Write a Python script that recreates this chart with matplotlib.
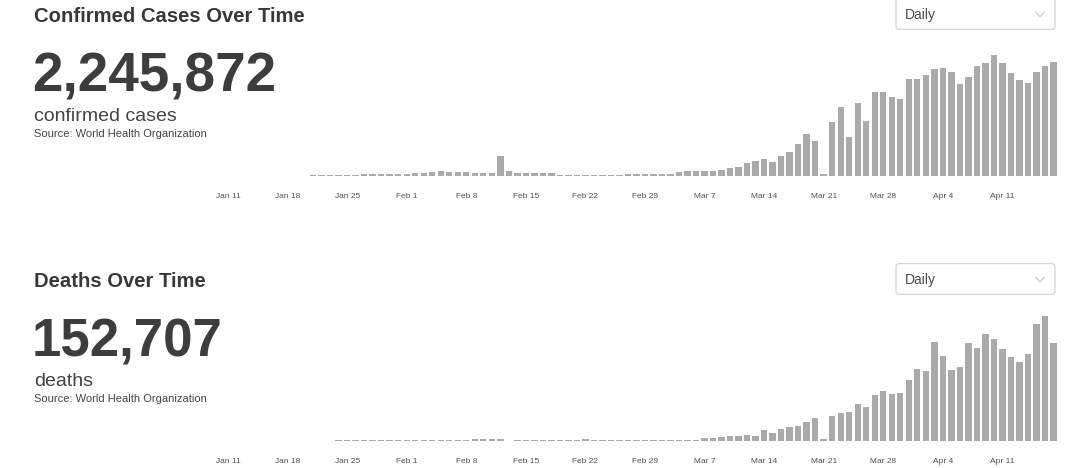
import pandas as pd
import matplotlib.pyplot as plt
from matplotlib.patches import FancyBboxPatch

OUT_FILE = 'out.png'
FONT = ['Liberation Sans', 'DejaVu Sans']

# daily values, Jan 21 .. Apr 17 2020
dates = pd.date_range('2020-01-21', '2020-04-17', freq='D')

confirmed_daily = [
    # Jan 21-31
    280, 300, 260, 500, 600, 800, 1300, 1300, 1400, 1300, 1300,
    # Feb
    1600, 2100, 2400, 3200, 3400, 3200, 2900, 2600, 2400, 2400, 1850, 15200, 4000, 2100,
    2100, 2100, 1850, 1850, 550, 550, 550, 550, 550, 550, 800, 800, 1050, 1300, 1300,
    # Mar
    1300, 1600, 1600, 2630, 3700, 3700, 3700, 3950, 4200, 6300, 6600, 10000, 11800, 12900,
    10800, 15800, 18900, 25000, 33100, 27100, 1600, 42600, 54200, 30800, 57100, 43100,
    65500, 65500, 61800, 60200, 75700,
    # Apr 1-17
    76300, 79400, 83600, 84400, 81300, 71800, 77300, 86500, 88600, 94900, 88600, 80700,
    75000, 72900, 81500, 86500, 89400,
]

deaths_daily = [
    # Jan 21-31
    12, 12, 12, 17, 17, 20, 24, 24, 24, 26, 29,
    # Feb
    45, 45, 57, 65, 66, 73, 73, 86, 89, 97, 108, 150, 10, 72, 72, 72, 72, 72, 72, 72, 72,
    100, 35, 35, 35, 35, 35, 40, 40,
    # Mar
    40, 45, 45, 48, 48, 48, 190, 190, 240, 310, 310, 410, 340, 740, 550, 820, 960, 1080,
    1370, 1660, 120, 1750, 1990, 2040, 2640, 2420, 3290, 3550, 3360, 3460, 4390,
    # Apr 1-17
    5180, 5040, 7100, 6070, 5060, 5280, 7060, 6670, 7680, 7340, 6600, 6000, 5690, 6260,
    8400, 9000, 7060,
]

tick_labels = ['Jan 11', 'Jan 18', 'Jan 25', 'Feb 1', 'Feb 8', 'Feb 15', 'Feb 22',
               'Feb 29', 'Mar 7', 'Mar 14', 'Mar 21', 'Mar 28', 'Apr 4', 'Apr 11']

panels = [
    {'title': 'Confirmed Cases Over Time', 'total': '2,245,872', 'unit': 'confirmed cases',
     'values': confirmed_daily, 'ymax': 102200, 'dy': 0, 'total_size': 39.5},
    {'title': 'Deaths Over Time', 'total': '152,707', 'unit': 'deaths',
     'values': deaths_daily, 'ymax': 9360, 'dy': 265, 'total_size': 38},
]


def draw_header(bg, p):
    dy = p['dy']
    bg.text(34, 21.7 + dy, p['title'], fontsize=14.6, fontweight='bold', color='#383838',
            va='baseline', family=FONT)
    bg.text(32, 91.5 + dy, p['total'], fontsize=p['total_size'], fontweight='bold',
            color='#3d3d3d', va='baseline', family=FONT)
    bg.text(34, 120.7 + dy, p['unit'], fontsize=14, color='#444444', va='baseline', family=FONT)
    bg.text(34, 137.3 + dy, 'Source: World Health Organization', fontsize=8, color='#444444',
            va='baseline', family=FONT)

    # "Daily" dropdown
    box = FancyBboxPatch((896, -1.4 + dy), 159, 30.7, boxstyle='round,pad=0,rounding_size=3',
                         facecolor='white', edgecolor='#d4d4d4', linewidth=0.9)
    bg.add_patch(box)
    bg.text(905, 15 + dy, 'Daily', fontsize=10, color='#4a4a4a', va='center', family=FONT)
    bg.plot([1036, 1040, 1044], [12.7 + dy, 16.7 + dy, 12.7 + dy], color='#c8c8c8', lw=0.9)


def draw_bars(fig, p):
    base_px = 175.7 + p['dy']
    ax = fig.add_axes([210 / 1080, 1 - base_px / 468, 850 / 1080, 130 / 468])
    ax.set_facecolor('none')
    ax.bar(dates, p['values'], width=0.75, color='#aaaaaa')

    start = pd.Timestamp('2020-01-11')
    ax.set_xlim(start - pd.Timedelta(days=2.115), start + pd.Timedelta(days=97.77))
    ax.set_ylim(0, p['ymax'])

    ticks = [pd.Timestamp(lbl + ' 2020') for lbl in tick_labels]
    ax.set_xticks(ticks)
    ax.set_xticklabels(tick_labels, fontsize=6, color='#505050', family=FONT)
    ax.tick_params(axis='x', length=0, pad=12.2)
    ax.set_yticks([])
    for s in ax.spines.values():
        s.set_visible(False)


fig = plt.figure(figsize=(10.8, 4.68), dpi=100)
bg = fig.add_axes([0, 0, 1, 1])
bg.set_xlim(0, 1080)
bg.set_ylim(468, 0)
bg.axis('off')

for p in panels:
    draw_header(bg, p)
    draw_bars(fig, p)

fig.savefig(OUT_FILE, dpi=100, facecolor='white')
